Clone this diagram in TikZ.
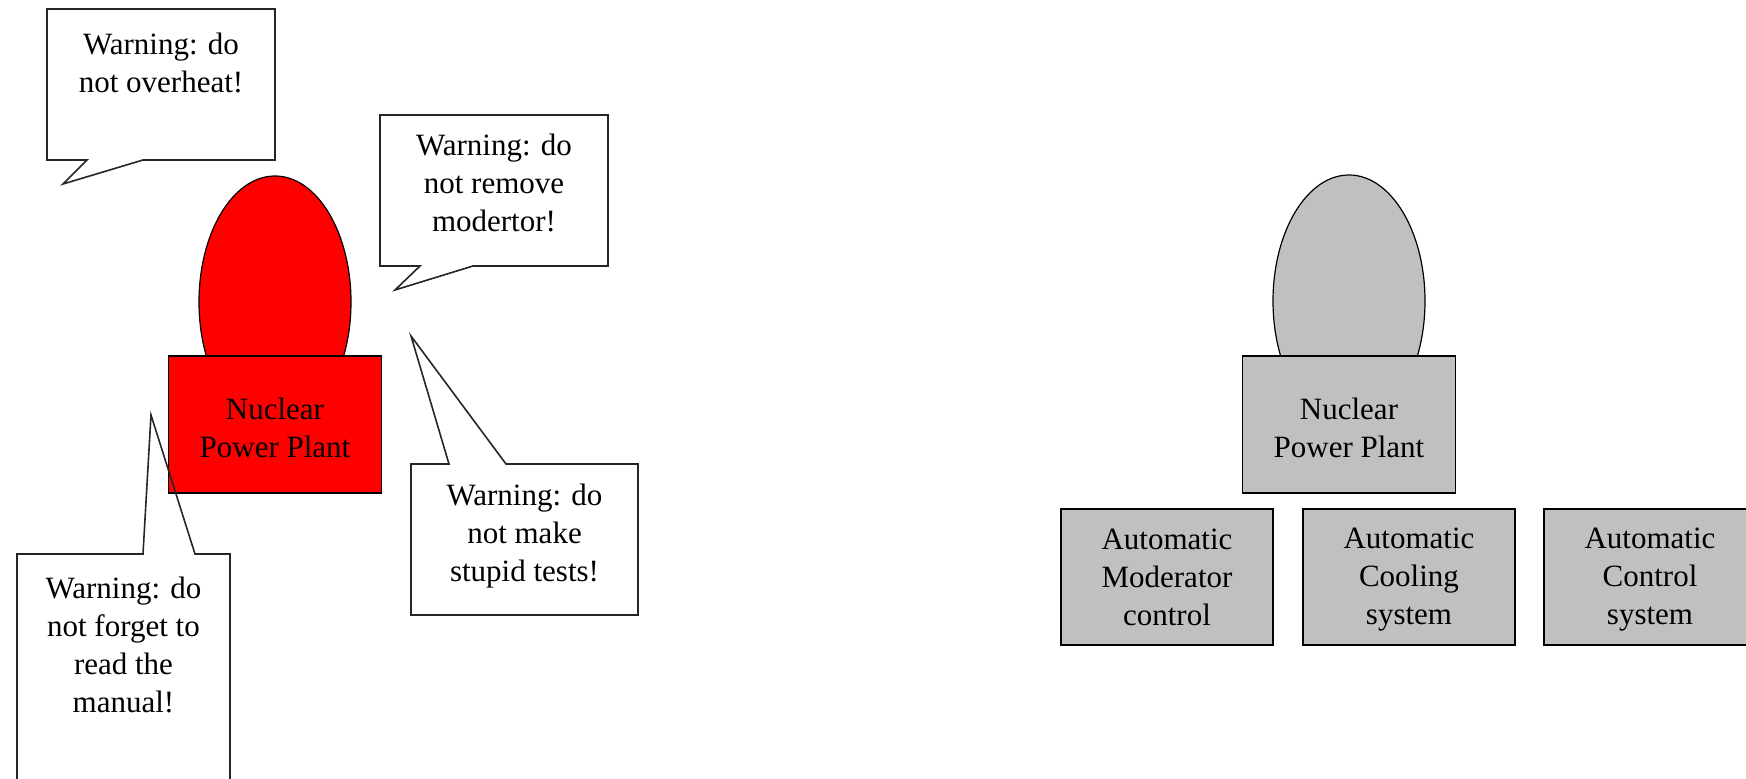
\documentclass[tikz,border=0pt]{standalone}
\usepackage{fontspec}
\setmainfont{Liberation Serif}
\usetikzlibrary{shapes.geometric}
\definecolor{plantred}{RGB}{255,0,0}
\definecolor{plantgray}{RGB}{192,192,192}
% invisible strut that keeps every line of a box at the same height
\newcommand{\lnstrut}{\rule[-1.6pt]{0pt}{14pt}}
\newcommand{\basestrut}{\rule[-0.2pt]{0pt}{14pt}}
\begin{document}
\begin{tikzpicture}[x=0.5pt,y=-0.5pt,
  every node/.style={font=\fontsize{15.5}{19}\selectfont, align=center, inner sep=0pt},
  dome/.style={ellipse, draw=black, line width=0.6pt, minimum width=76pt, minimum height=126pt},
  basebox/.style={rectangle, draw=black, line width=0.8pt, minimum width=106.5pt, minimum height=68.5pt},
  unitbox/.style={rectangle, draw=black, line width=0.8pt, fill=plantgray, minimum width=106pt, minimum height=68pt},
  bubble/.style={draw=black!85, line width=0.8pt, line join=miter}]
\useasboundingbox (0,0) rectangle (1746,779);
\clip (0,0) rectangle (1746,779);

% ---- left: the plant with warning callouts ----
\node[dome, fill=plantred] (reddome) at (275,302) {};
\node[basebox, fill=plantred] (redbase) at (275,424.5) {\basestrut Nuclear\\\basestrut Power Plant};

% callout outlines
\draw[bubble] (47,9) -- (275,9) -- (275,160) -- (143,160) -- (63,184) -- (87,160) -- (47,160) -- cycle;
\draw[bubble] (380,115) -- (608,115) -- (608,266) -- (473,266) -- (395,290) -- (420,266) -- (380,266) -- cycle;
\draw[bubble] (411,464) -- (449,464) -- (411,336) -- (506,464) -- (638,464) -- (638,615) -- (411,615) -- cycle;
\draw[bubble] (17,800) -- (17,554) -- (143,554) -- (151,415) -- (195,554) -- (230,554) -- (230,800);

% callout texts
\node (warnheat) at (161,62.5) {\lnstrut Warning: do\\\lnstrut not overheat!};
\node (warnmod) at (494,183) {\lnstrut Warning: do\\\lnstrut not remove\\\lnstrut modertor!};
\node (warntest) at (524.5,534) {\lnstrut Warning: do\\\lnstrut not make\\\lnstrut stupid tests!};
\node (warnread) at (123.5,645) {\lnstrut Warning: do\\\lnstrut not forget to\\\lnstrut read the\\\lnstrut manual!};

% ---- right: the plant with its automatic systems ----
\node[dome, fill=plantgray] (graydome) at (1349,301) {};
\node[basebox, fill=plantgray] (graybase) at (1349,424.5) {\basestrut Nuclear\\\basestrut Power Plant};
\node[unitbox] (modctl) at (1167,577) {\lnstrut Automatic\\\lnstrut Moderator\\\lnstrut control};
\node[unitbox] (coolsys) at (1409,577) {\lnstrut Automatic\\\lnstrut Cooling\\\lnstrut system};
\node[unitbox] (ctlsys) at (1650,577) {\lnstrut Automatic\\\lnstrut Control\\\lnstrut system};
\end{tikzpicture}
\end{document}
